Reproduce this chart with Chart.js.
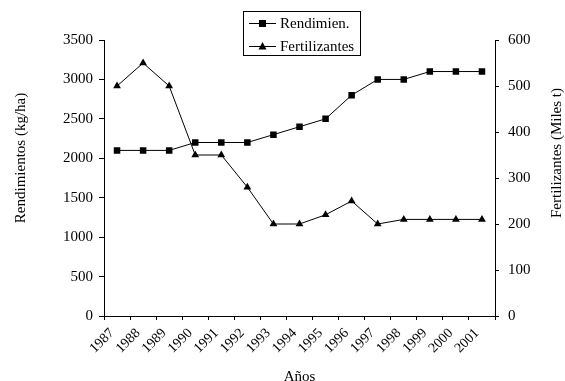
<!DOCTYPE html>
<html>
<head>
<meta charset="utf-8">
<script src="https://cdn.jsdelivr.net/npm/chart.js@4"></script>
<style>
  html, body { margin: 0; padding: 0; background: #fff; }
  #wrap { width: 565px; height: 381px; }
</style>
</head>
<body>
<div id="wrap"><canvas id="myChart"></canvas></div>
<script>
const years = ["1987", "1988", "1989", "1990", "1991", "1992", "1993", "1994",
  "1995", "1996", "1997", "1998", "1999", "2000", "2001"];
const rendimientos = [2100, 2100, 2100, 2200, 2200, 2200, 2300, 2400, 2500, 2800,
  3000, 3000, 3100, 3100, 3100];
const fertilizantes = [500, 550, 500, 350, 350, 280, 200, 200, 220, 250, 200, 210,
  210, 210, 210];

const FONT = "'Liberation Serif', 'Times New Roman', serif";
Chart.defaults.font.family = FONT;
Chart.defaults.font.size = 15;
Chart.defaults.color = "#000";

// legend box and the two vertical axis titles (both read bottom to top)
const extras = {
  id: "extras",
  afterDraw(chart) {
    const ctx = chart.ctx;
    ctx.save();
    ctx.strokeStyle = "#000";
    ctx.fillStyle = "#000";
    ctx.lineWidth = 1;
    ctx.strokeRect(243.5, 11.5, 117, 44);
    ctx.font = "15px " + FONT;
    ctx.textBaseline = "middle";
    chart.data.datasets.forEach((ds, i) => {
      const y = 23.5 + i * 23;
      ctx.beginPath();
      ctx.moveTo(249, y);
      ctx.lineTo(276, y);
      ctx.stroke();
      if (ds.pointStyle === "rect") {
        ctx.fillRect(259, y - 3.5, 7, 7);
      } else {
        ctx.beginPath();
        ctx.moveTo(262.5, y - 4.5);
        ctx.lineTo(266.5, y + 3);
        ctx.lineTo(258.5, y + 3);
        ctx.closePath();
        ctx.fill();
      }
      ctx.textAlign = "left";
      ctx.fillText(ds.label, 280, y + 1);
    });

    ctx.textAlign = "center";
    ctx.save();
    ctx.translate(21, 158);
    ctx.rotate(-Math.PI / 2);
    ctx.fillText("Rendimientos (kg/ha)", 0, 0);
    ctx.restore();
    ctx.save();
    ctx.translate(557, 153);
    ctx.rotate(-Math.PI / 2);
    ctx.fillText("Fertilizantes (Miles t)", 0, 0);
    ctx.restore();
    ctx.restore();
  }
};

const ctx = document.getElementById("myChart");
new Chart(ctx, {
  type: "line",
  data: {
    labels: years,
    datasets: [
      {
        label: "Rendimien.",
        data: rendimientos,
        yAxisID: "y",
        borderColor: "#000",
        backgroundColor: "#000",
        borderWidth: 1,
        pointStyle: "rect",
        pointRadius: 4.6,
        pointBorderWidth: 0,
        tension: 0,
      },
      {
        label: "Fertilizantes",
        data: fertilizantes,
        yAxisID: "y1",
        borderColor: "#000",
        backgroundColor: "#000",
        borderWidth: 1,
        pointStyle: "triangle",
        pointRadius: 4.5,
        pointBorderWidth: 0,
        tension: 0,
      },
    ],
  },
  options: {
    responsive: true,
    maintainAspectRatio: false,
    animation: false,
    events: [],
    layout: { padding: { top: 40, left: 0, right: 0, bottom: 0 } },
    plugins: {
      legend: { display: false },
      tooltip: { enabled: false },
    },
    scales: {
      x: {
        offset: true,
        grid: { offset: true, drawOnChartArea: false, tickLength: 4, color: "#000" },
        border: { color: "#000", width: 1 },
        ticks: {
          maxRotation: 45,
          minRotation: 45,
          padding: 5,
          labelOffset: -5,
          autoSkip: false,
          font: { size: 14 },
        },
        title: { display: true, text: "Años", padding: { top: 0, bottom: -5 } },
        afterFit(scale) { scale.height = 65; },
      },
      y: {
        position: "left",
        min: 0,
        max: 3500,
        ticks: { stepSize: 500, padding: 6, callback: (v) => String(v) },
        grid: { drawOnChartArea: false, tickLength: 5, color: "#000" },
        border: { color: "#000", width: 1 },
        afterFit(scale) { scale.width = 104; },
      },
      y1: {
        position: "right",
        min: 0,
        max: 600,
        ticks: { stepSize: 100, padding: 9, callback: (v) => String(v) },
        grid: { drawOnChartArea: false, tickLength: 4, color: "#000" },
        border: { color: "#000", width: 1 },
        afterFit(scale) { scale.width = 70; },
      },
    },
  },
  plugins: [extras],
});
</script>
</body>
</html>
